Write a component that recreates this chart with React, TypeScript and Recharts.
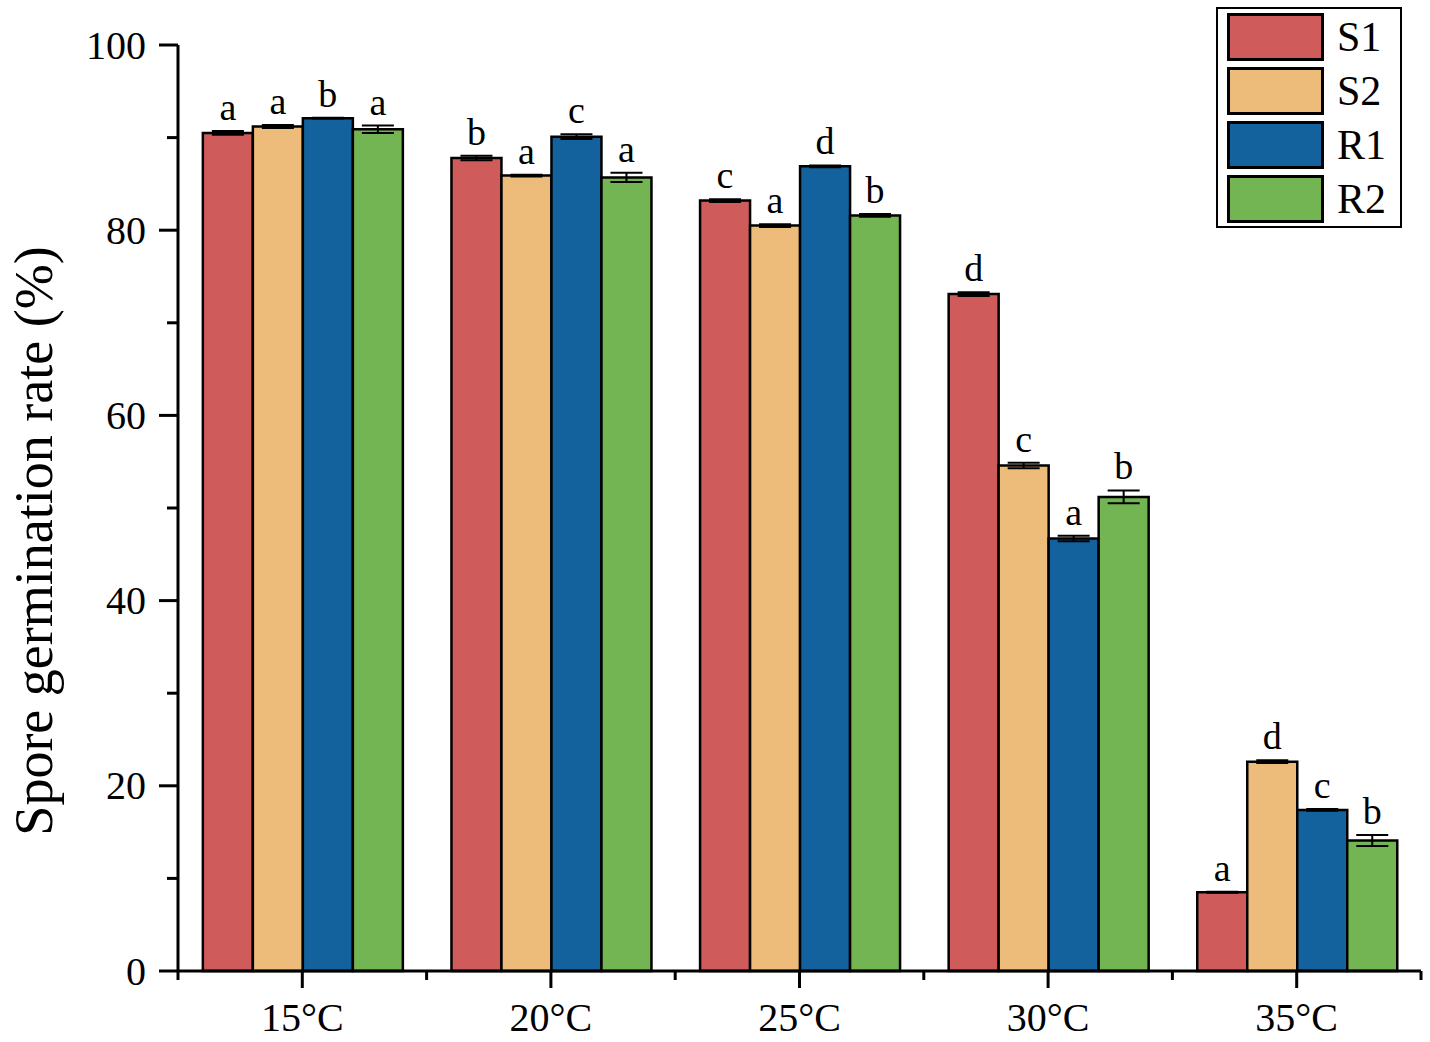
import { Bar, BarChart, ErrorBar, LabelList, XAxis, YAxis } from "recharts";

const temps = ["15°C", "20°C", "25°C", "30°C", "35°C"];
const s1 = [90.5, 87.8, 83.2, 73.1, 8.5];
const s2 = [91.2, 85.9, 80.5, 54.6, 22.6];
const r1 = [92.1, 90.1, 86.9, 46.7, 17.4];
const r2 = [90.9, 85.7, 81.6, 51.2, 14.1];
const s1Err = [0.2, 0.25, 0.15, 0.2, 0.05];
const s2Err = [0.15, 0.1, 0.15, 0.3, 0.15];
const r1Err = [0.05, 0.25, 0.1, 0.3, 0.1];
const r2Err = [0.4, 0.5, 0.15, 0.7, 0.6];
const s1Sig = ["a", "b", "c", "d", "a"];
const s2Sig = ["a", "a", "a", "c", "d"];
const r1Sig = ["b", "c", "d", "a", "c"];
const r2Sig = ["a", "a", "b", "b", "b"];
const yTicks = [0, 10, 20, 30, 40, 50, 60, 70, 80, 90, 100];

const series = [
  { key: "S1", values: s1, errs: s1Err, sig: s1Sig, color: "#D05B5B" },
  { key: "S2", values: s2, errs: s2Err, sig: s2Sig, color: "#EDBC7B" },
  { key: "R1", values: r1, errs: r1Err, sig: r1Sig, color: "#13629E" },
  { key: "R2", values: r2, errs: r2Err, sig: r2Sig, color: "#72B552" },
];

const data = temps.map((t, i) => {
  const row: any = { temp: t };
  series.forEach((s) => {
    row[s.key] = s.values[i];
    row[s.key + "err"] = s.errs[i];
  });
  return row;
});

const FONT = "'Liberation Serif', 'Times New Roman', serif";
const W = 1430;
const H = 1042;
const LEFT = 178;
const RIGHT = 9;
const TOP = 45;
const XH = 71;
const band = (W - LEFT - RIGHT) / temps.length;

const YTick = ({ x, y, payload }: any) => {
  const major = payload.value % 20 === 0;
  return (
    <g>
      <line x1={x} x2={x - (major ? 19 : 11)} y1={y} y2={y} stroke="#000" strokeWidth={3} />
      {major && (
        <text x={x - 32} y={y} dy="0.34em" textAnchor="end" fontSize={40} fontFamily={FONT} fill="#000">
          {payload.value}
        </text>
      )}
    </g>
  );
};

const XTick = ({ x, y, payload, index }: any) => {
  const half = band / 2;
  return (
    <g>
      <line x1={x} x2={x} y1={y} y2={y + 17} stroke="#000" strokeWidth={3} />
      <line x1={x - half} x2={x - half} y1={y} y2={y + 9} stroke="#000" strokeWidth={3} />
      {index === temps.length - 1 && (
        <line x1={x + half} x2={x + half} y1={y} y2={y + 9} stroke="#000" strokeWidth={3} />
      )}
      <text x={x} y={y + 60} textAnchor="middle" fontSize={40} fontFamily={FONT} fill="#000">
        {payload.value}
      </text>
    </g>
  );
};

const sigLabel = (sig: string[], errs: number[]) => (props: any) => {
  const vb = props.viewBox && props.viewBox.width != null ? props.viewBox : props;
  const { x, y, width, height } = vb;
  const idx = props.index;
  const value = Number(props.value);
  const px = value ? Math.abs(height) / value : (H - TOP - XH) / 100;
  const top = Math.min(y, y + height) - errs[idx] * px;
  return (
    <text x={x + width / 2} y={top - 11} textAnchor="middle" fontSize={38} fontFamily={FONT} fill="#000">
      {sig[idx]}
    </text>
  );
};

export default function App() {
  return (
    <div style={{ position: "absolute", left: 0, top: 0, width: W, height: H, background: "#fff" }}>
      <BarChart
        width={W}
        height={H}
        data={data}
        margin={{ top: TOP, right: RIGHT, left: 0, bottom: 0 }}
        barCategoryGap="10%"
        barGap={0}
      >
        <XAxis
          dataKey="temp"
          height={XH}
          tickLine={false}
          tickSize={0}
          tickMargin={0}
          axisLine={{ stroke: "#000", strokeWidth: 3 }}
          tick={<XTick />}
          interval={0}
        />
        <YAxis
          width={LEFT}
          domain={[0, 100]}
          ticks={yTicks}
          interval={0}
          tickLine={false}
          tickSize={0}
          tickMargin={0}
          axisLine={{ stroke: "#000", strokeWidth: 3 }}
          tick={<YTick />}
        />
        {series.map((s) => (
          <Bar key={s.key} dataKey={s.key} fill={s.color} stroke="#000" strokeWidth={2.5} isAnimationActive={false}>
            <ErrorBar
              dataKey={s.key + "err"}
              direction="y"
              width={16}
              stroke="#000"
              strokeWidth={2}
              isAnimationActive={false}
            />
            <LabelList dataKey={s.key} content={sigLabel(s.sig, s.errs)} />
          </Bar>
        ))}
      </BarChart>
      <svg style={{ position: "absolute", left: 0, top: 0 }} width={80} height={H}>
        <text
          x={52}
          y={541}
          transform="rotate(-90 52 541)"
          textAnchor="middle"
          fontSize={54}
          fontFamily={FONT}
          fill="#000"
        >
          Spore germination rate (%)
        </text>
      </svg>
      <div
        style={{
          position: "absolute",
          left: 1216,
          top: 7,
          width: 186,
          height: 221,
          border: "2px solid #000",
          boxSizing: "border-box",
          background: "#fff",
        }}
      >
        {series.map((s, i) => (
          <div key={s.key}>
            <div
              style={{
                position: "absolute",
                left: 9,
                top: 4 + i * 54,
                width: 97,
                height: 48,
                background: s.color,
                border: "3px solid #000",
                boxSizing: "border-box",
              }}
            />
            <div
              style={{
                position: "absolute",
                left: 119,
                top: 4 + i * 54,
                height: 48,
                lineHeight: "48px",
                fontSize: 42,
                fontFamily: FONT,
                color: "#000",
              }}
            >
              {s.key}
            </div>
          </div>
        ))}
      </div>
    </div>
  );
}
